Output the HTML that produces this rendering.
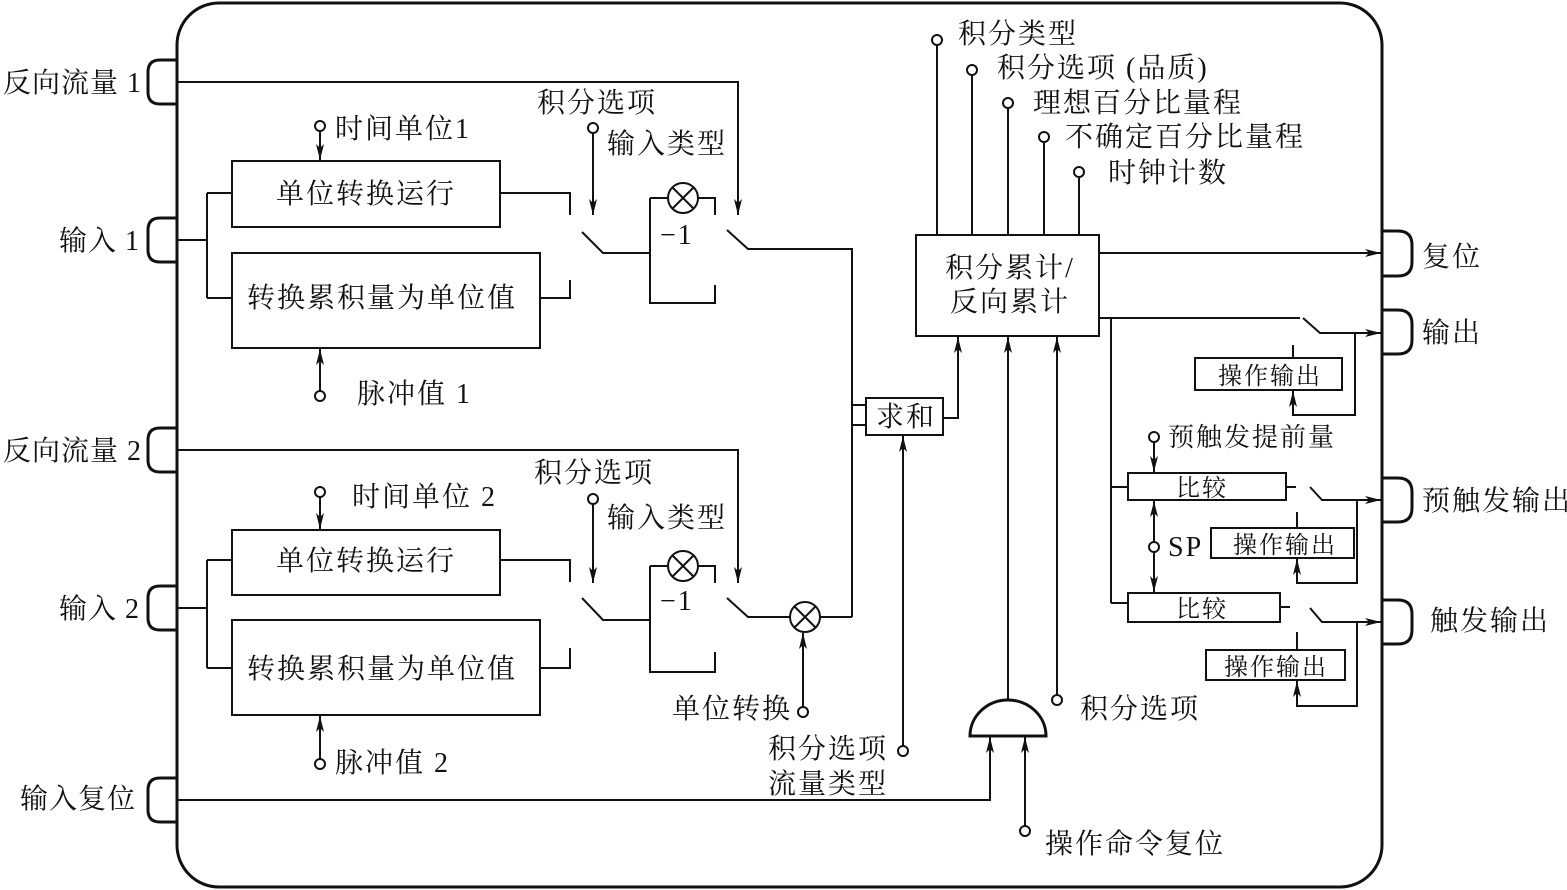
<!DOCTYPE html>
<html><head><meta charset="utf-8"><style>
html,body{margin:0;padding:0;background:#fff;}
svg{display:block;}
text{font-family:"Liberation Serif","Noto Serif CJK SC","Noto Sans CJK SC",serif;font-size:28px;letter-spacing:2px;fill:#111;}
text.s{font-size:24px;letter-spacing:2px;}
text.l{letter-spacing:1px;}
</style></head><body>
<svg width="1567" height="890" viewBox="0 0 1567 890" xmlns="http://www.w3.org/2000/svg">
<defs>
<marker id="a" viewBox="0 0 16 8" refX="16" refY="4" markerWidth="16" markerHeight="8" markerUnits="userSpaceOnUse" orient="auto">
<path d="M0,0 L16,4 L0,8 L4,4 Z" fill="#111"/>
</marker>
</defs>
<g fill="none" stroke="#111" stroke-width="2">
<rect x="177" y="3" width="1205" height="884" rx="42" stroke-width="3"/>
<path d="M177,60 H160 Q148,60 148,72 V92 Q148,104 160,104 H177" stroke-width="3"/>
<path d="M177,218 H160 Q148,218 148,230 V250 Q148,262 160,262 H177" stroke-width="3"/>
<path d="M177,428 H160 Q148,428 148,440 V460 Q148,472 160,472 H177" stroke-width="3"/>
<path d="M177,586 H160 Q148,586 148,598 V618 Q148,630 160,630 H177" stroke-width="3"/>
<path d="M177,778 H160 Q148,778 148,790 V810 Q148,822 160,822 H177" stroke-width="3"/>
<path d="M1382,231 H1398 Q1412,231 1412,245 V262 Q1412,276 1398,276 H1382" stroke-width="3"/>
<path d="M1382,310 H1398 Q1412,310 1412,324 V340 Q1412,354 1398,354 H1382" stroke-width="3"/>
<path d="M1382,478 H1398 Q1412,478 1412,492 V508 Q1412,522 1398,522 H1382" stroke-width="3"/>
<path d="M1382,600 H1398 Q1412,600 1412,614 V630 Q1412,644 1398,644 H1382" stroke-width="3"/>

<path d="M177,82 H738 V215" marker-end="url(#a)"/>
<circle cx="320" cy="126" r="5" fill="#fff"/>
<path d="M320,131 V160" marker-end="url(#a)"/>
<rect x="232" y="161" width="268" height="66"/>
<rect x="232" y="253" width="308" height="95"/>
<path d="M177,240 H207 M207,193 V298 M207,193 H232 M207,298 H232"/>
<path d="M500,193 H570 V215 M540,298 H570 V280"/>
<path d="M582,232 L603,253 H650"/>
<circle cx="593" cy="128" r="5" fill="#fff"/>
<path d="M593,133 V215" marker-end="url(#a)"/>
<path d="M650,198 V303 H715 V285 M650,198 H668 M698,198 H715 V215"/>
<circle cx="683" cy="198" r="15"/>
<path d="M672,187 L694,209 M694,187 L672,209"/>
<path d="M727,230 L748,249 H852 V617 M852,405 H866 M852,425 H866"/>
<circle cx="320" cy="396" r="5" fill="#fff"/>
<path d="M320,391 V349" marker-end="url(#a)"/>

<rect x="866" y="398" width="77" height="37"/>
<path d="M943,418 H958 V337" marker-end="url(#a)"/>
<rect x="916" y="235" width="183" height="101"/>
<circle cx="937" cy="40" r="5" fill="#fff"/><path d="M937,45 V235"/>
<circle cx="972" cy="70" r="5" fill="#fff"/><path d="M972,75 V235"/>
<circle cx="1008" cy="103" r="5" fill="#fff"/><path d="M1008,108 V235"/>
<circle cx="1044" cy="137" r="5" fill="#fff"/><path d="M1044,142 V235"/>
<circle cx="1079" cy="172" r="5" fill="#fff"/><path d="M1079,177 V235"/>
<path d="M1099,253 H1381" marker-end="url(#a)"/>

<path d="M1099,318 H1300 M1303,318 L1320,333 H1381" />
<path d="M1320,333 H1381" marker-end="url(#a)"/>
<path d="M1355,333 V415 H1293 V391" marker-end="url(#a)"/>
<rect x="1195" y="358" width="147" height="32"/>
<path d="M1293,358 V345"/>
<path d="M1111,318 V603 M1111,487 H1128 M1111,603 H1128"/>
<rect x="1128" y="473" width="158" height="27"/>
<path d="M1286,487 H1296 M1310,487 L1322,500 H1381" marker-end="url(#a)"/>
<path d="M1357,500 V583 H1297 V559" marker-end="url(#a)"/>
<rect x="1211" y="528" width="143" height="30"/>
<path d="M1297,528 V512"/>
<circle cx="1154" cy="437" r="5" fill="#fff"/>
<path d="M1154,442 V472" marker-end="url(#a)"/>
<circle cx="1154" cy="547" r="5" fill="#fff"/>
<path d="M1154,542 V501" marker-end="url(#a)"/>
<path d="M1154,552 V592" marker-end="url(#a)"/>
<rect x="1128" y="593" width="152" height="29"/>
<path d="M1280,607 H1290 M1310,608 L1322,622 H1381" marker-end="url(#a)"/>
<path d="M1357,622 V706 H1297 V681" marker-end="url(#a)"/>
<rect x="1206" y="650" width="139" height="30"/>
<path d="M1297,650 V632"/>

<path d="M1008,700 V337" marker-end="url(#a)"/>
<circle cx="1057" cy="700" r="5" fill="#fff"/>
<path d="M1057,695 V337" marker-end="url(#a)"/>
<path d="M970,736 A38,36 0 0 1 1046,736 Z" stroke-width="3"/>
<path d="M177,800 H990 V737" marker-end="url(#a)"/>
<circle cx="1025" cy="831" r="5" fill="#fff"/>
<path d="M1025,826 V737" marker-end="url(#a)"/>
<circle cx="903" cy="751" r="5" fill="#fff"/>
<path d="M903,746 V436" marker-end="url(#a)"/>

<path d="M177,450 H738 V583" marker-end="url(#a)"/>
<circle cx="320" cy="492" r="5" fill="#fff"/>
<path d="M320,497 V529" marker-end="url(#a)"/>
<rect x="232" y="530" width="268" height="65"/>
<rect x="232" y="620" width="308" height="95"/>
<path d="M177,608 H207 M207,560 V668 M207,560 H232 M207,668 H232"/>
<path d="M500,560 H570 V582 M540,668 H570 V648"/>
<path d="M582,598 L603,620 H650"/>
<circle cx="593" cy="499" r="5" fill="#fff"/>
<path d="M593,504 V583" marker-end="url(#a)"/>
<path d="M650,566 V672 H715 V652 M650,566 H668 M698,566 H715 V583"/>
<circle cx="683" cy="566" r="15"/>
<path d="M672,555 L694,577 M694,555 L672,577"/>
<path d="M727,598 L748,617 H790 M820,617 H852"/>
<circle cx="805" cy="617" r="15"/>
<path d="M794,606 L816,628 M816,606 L794,628"/>
<circle cx="803" cy="712" r="5" fill="#fff"/>
<path d="M803,707 V633" marker-end="url(#a)"/>
<circle cx="320" cy="764" r="5" fill="#fff"/>
<path d="M320,759 V716" marker-end="url(#a)"/>
</g>

<g>
<text class="l" x="142" y="92" text-anchor="end">反向流量 1</text>
<text class="l" x="140" y="250" text-anchor="end">输入 1</text>
<text class="l" x="142" y="460" text-anchor="end">反向流量 2</text>
<text class="l" x="140" y="618" text-anchor="end">输入 2</text>
<text class="l" x="136" y="808" text-anchor="end">输入复位</text>
<text x="1422" y="266">复位</text>
<text x="1422" y="342">输出</text>
<text x="1422" y="510">预触发输出</text>
<text x="1430" y="630">触发输出</text>

<text x="335" y="138">时间单位1</text>
<text x="366" y="203" text-anchor="middle">单位转换运行</text>
<text x="382" y="307" text-anchor="middle">转换累积量为单位值</text>
<text x="357" y="403">脉冲值 1</text>
<text x="537" y="112">积分选项</text>
<text x="607" y="153">输入类型</text>
<text x="660" y="244">−1</text>

<text x="352" y="506">时间单位 2</text>
<text x="366" y="570" text-anchor="middle">单位转换运行</text>
<text x="382" y="678" text-anchor="middle">转换累积量为单位值</text>
<text x="335" y="772">脉冲值 2</text>
<text x="534" y="482">积分选项</text>
<text x="607" y="527">输入类型</text>
<text x="660" y="610">−1</text>
<text x="672" y="718">单位转换</text>
<text x="768" y="758">积分选项</text>
<text x="768" y="793">流量类型</text>

<text x="906" y="426" text-anchor="middle">求和</text>
<text x="1010" y="277" text-anchor="middle">积分累计/</text>
<text x="1010" y="311" text-anchor="middle">反向累计</text>
<text x="958" y="43">积分类型</text>
<text x="997" y="77">积分选项 (品质)</text>
<text x="1033" y="112">理想百分比量程</text>
<text x="1065" y="146">不确定百分比量程</text>
<text x="1108" y="182">时钟计数</text>
<text x="1080" y="718">积分选项</text>
<text x="1045" y="853">操作命令复位</text>

<text class="s" x="1270" y="384" text-anchor="middle">操作输出</text>
<text x="1168" y="446" style="font-size:26px">预触发提前量</text>
<text class="s" x="1202" y="496" text-anchor="middle">比较</text>
<text x="1168" y="556">SP</text>
<text class="s" x="1285" y="553" text-anchor="middle">操作输出</text>
<text class="s" x="1202" y="617" text-anchor="middle">比较</text>
<text class="s" x="1276" y="675" text-anchor="middle">操作输出</text>
</g>
</svg>
</body></html>
